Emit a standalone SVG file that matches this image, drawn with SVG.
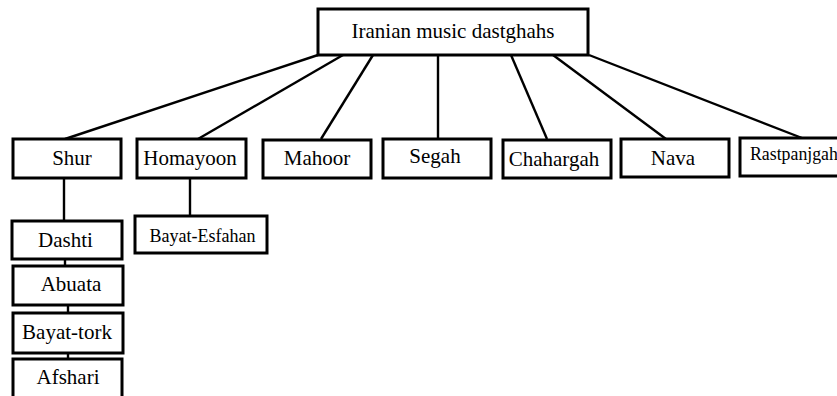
<svg xmlns="http://www.w3.org/2000/svg" width="837" height="396" viewBox="0 0 837 396">
<style>
.box{fill:#fff;stroke:#000;stroke-width:3}
.t{font-family:"Liberation Serif","Times New Roman",serif;font-size:21px;fill:#000;text-anchor:middle}
.s{font-size:18px}
.c line{stroke:#000;stroke-width:2.4;fill:none}
</style>
<rect width="837" height="396" fill="#fff"/>
<g class="c" id="connectors">
<line x1="318" y1="55" x2="65" y2="139"/>
<line x1="343" y1="55" x2="198" y2="139"/>
<line x1="373" y1="55" x2="321" y2="139"/>
<line x1="438" y1="55" x2="438" y2="139"/>
<line x1="511" y1="55" x2="547" y2="139"/>
<line x1="553" y1="55" x2="666" y2="139"/>
<line x1="589" y1="55" x2="802" y2="138"/>
<line x1="64" y1="178" x2="64" y2="221"/>
<line x1="190" y1="178" x2="190" y2="216"/>
<line x1="65" y1="259" x2="65" y2="266"/>
<line x1="68" y1="305" x2="68" y2="313"/>
<line x1="68" y1="353" x2="68" y2="359"/>
</g>
<g id="root"><rect class="box" x="318" y="9" width="270" height="46"/><text class="t" x="453" y="38">Iranian music dastghahs</text></g>
<g id="shur"><rect class="box" x="13" y="139" width="108" height="39"/><text class="t" x="72" y="165">Shur</text></g>
<g id="homayoon"><rect class="box" x="137" y="139" width="109" height="39"/><text class="t" x="190" y="165">Homayoon</text></g>
<g id="mahoor"><rect class="box" x="263" y="140" width="108" height="38"/><text class="t" x="317" y="165">Mahoor</text></g>
<g id="segah"><rect class="box" x="383" y="139" width="108" height="39"/><text class="t" x="435" y="163">Segah</text></g>
<g id="chahargah"><rect class="box" x="503" y="140" width="108" height="38"/><text class="t" x="554" y="166">Chahargah</text></g>
<g id="nava"><rect class="box" x="621" y="139" width="108" height="38"/><text class="t" x="673" y="165">Nava</text></g>
<g id="rastpanjgah"><rect class="box" x="740" y="138" width="110" height="38"/><text class="t s" x="750" y="160" style="text-anchor:start;font-size:17.8px">Rastpanjgah</text></g>
<g id="bayat-esfahan"><rect class="box" x="135" y="216" width="132" height="37"/><text class="t s" x="202.5" y="242">Bayat-Esfahan</text></g>
<g id="dashti"><rect class="box" x="12" y="221" width="110" height="38"/><text class="t" x="65.5" y="247">Dashti</text></g>
<g id="abuata"><rect class="box" x="13" y="266" width="110" height="39"/><text class="t" x="71" y="291">Abuata</text></g>
<g id="bayat-tork"><rect class="box" x="13" y="313" width="110" height="40"/><text class="t" x="67" y="339">Bayat-tork</text></g>
<g id="afshari"><rect class="box" x="13" y="359" width="109" height="45"/><text class="t" x="68" y="384">Afshari</text></g>
</svg>
